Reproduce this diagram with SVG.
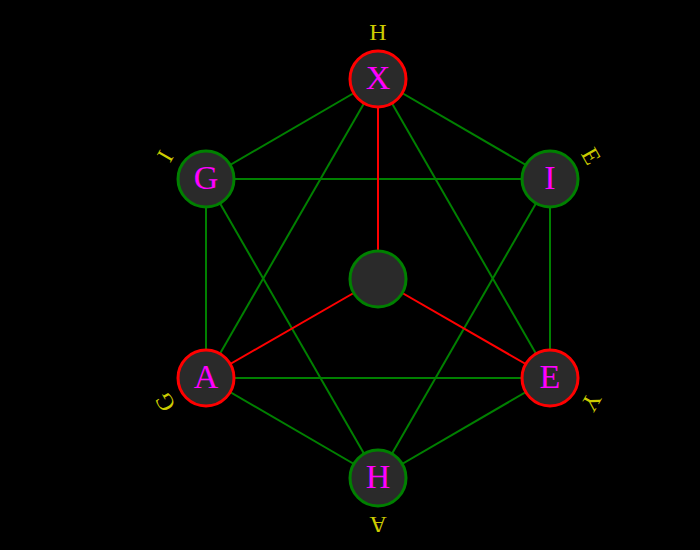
<svg xmlns="http://www.w3.org/2000/svg" width="700" height="550" viewBox="0 0 700 550">
<style>
.bg{fill:#000}
.n{fill:#2a2a2a;stroke-width:3}
.ng{stroke:#008000}
.nr{stroke:#ff0000}
.e{stroke-width:2;fill:none}
.eg{stroke:#008000}
.er{stroke:#ff0000}
.t{font-family:"Liberation Serif","DejaVu Serif",serif;font-size:34px;fill:#ff00ff;text-anchor:middle;dominant-baseline:central}
.l{font-family:"Liberation Serif","DejaVu Serif",serif;font-size:24px;fill:#cccc00;text-anchor:middle;dominant-baseline:central}
</style>
<rect class="bg" x="0" y="0" width="700" height="550"/>
<g id="connectors">
<line class="e eg" x1="378" y1="79" x2="206" y2="179"/>
<line class="e eg" x1="378" y1="79" x2="550" y2="179"/>
<line class="e eg" x1="206" y1="179" x2="550" y2="179"/>
<line class="e eg" x1="206" y1="179" x2="206" y2="378"/>
<line class="e eg" x1="550" y1="179" x2="550" y2="378"/>
<line class="e eg" x1="206" y1="378" x2="550" y2="378"/>
<line class="e eg" x1="206" y1="378" x2="378" y2="478"/>
<line class="e eg" x1="550" y1="378" x2="378" y2="478"/>
<line class="e eg" x1="378" y1="79" x2="206" y2="378"/>
<line class="e eg" x1="378" y1="79" x2="550" y2="378"/>
<line class="e eg" x1="206" y1="179" x2="378" y2="478"/>
<line class="e eg" x1="550" y1="179" x2="378" y2="478"/>
<line class="e er" x1="378" y1="279" x2="378" y2="79"/>
<line class="e er" x1="378" y1="279" x2="206" y2="378"/>
<line class="e er" x1="378" y1="279" x2="550" y2="378"/>
</g>
<g id="node-center"><circle class="n ng" cx="378" cy="279" r="28"/></g>
<g id="node-X"><circle class="n nr" cx="378" cy="79" r="28"/><text class="t" x="378" y="77">X</text></g>
<g id="node-G"><circle class="n ng" cx="206" cy="179" r="28"/><text class="t" x="206" y="177">G</text></g>
<g id="node-I"><circle class="n ng" cx="550" cy="179" r="28"/><text class="t" x="550" y="177">I</text></g>
<g id="node-A"><circle class="n nr" cx="206" cy="378" r="28"/><text class="t" x="206" y="376">A</text></g>
<g id="node-E"><circle class="n nr" cx="550" cy="378" r="28"/><text class="t" x="550" y="376">E</text></g>
<g id="node-H"><circle class="n ng" cx="378" cy="478" r="28"/><text class="t" x="378" y="476">H</text></g>
<g id="labels">
<text class="l" x="378" y="32">H</text>
<text class="l" x="591" y="156" transform="rotate(60 591 156)">E</text>
<text class="l" x="591" y="402" transform="rotate(120 591 402)">Y</text>
<text class="l" x="378" y="525" transform="rotate(180 378 525)">A</text>
<text class="l" x="165" y="402" transform="rotate(240 165 402)">G</text>
<text class="l" x="165" y="156" transform="rotate(300 165 156)">I</text>
</g>
</svg>
